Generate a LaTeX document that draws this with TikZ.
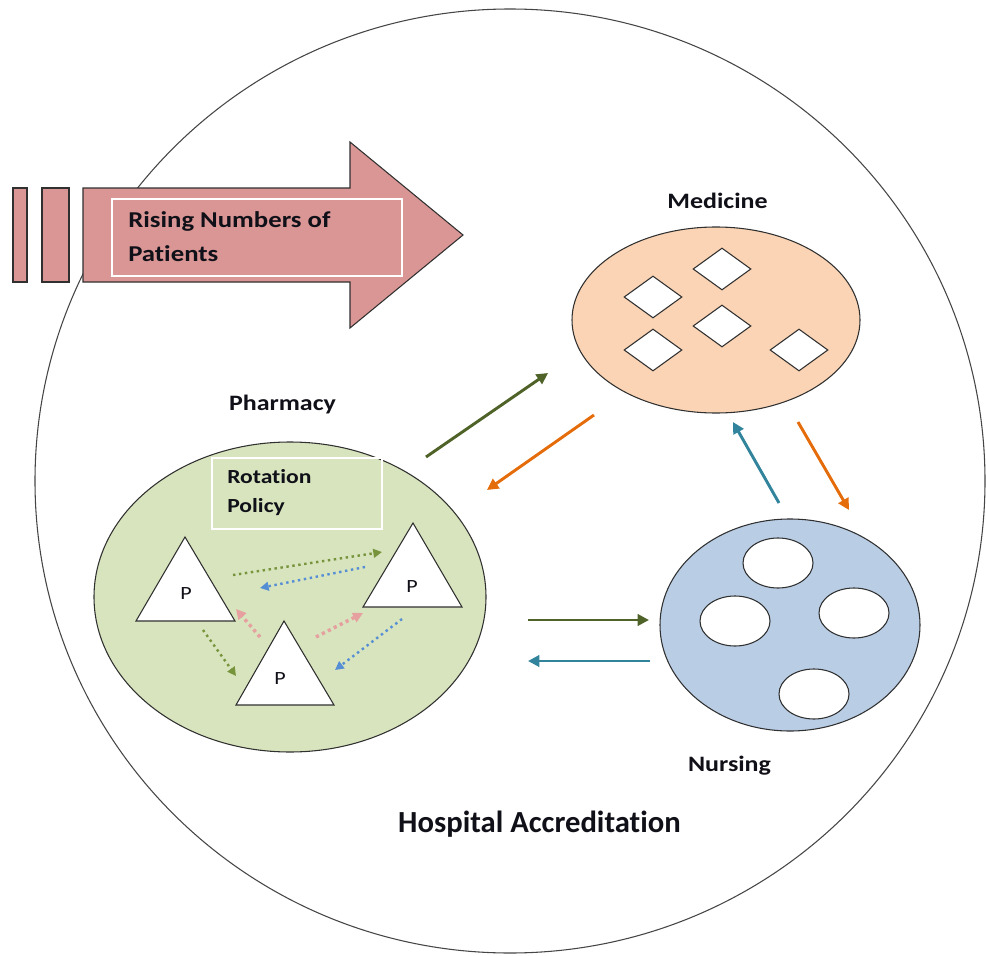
\documentclass[tikz,border=0pt]{standalone}
\usepackage{fontspec}
\setmainfont{Carlito}[Ligatures=NoCommon]
\newfontfamily\widefont{Carlito}[FakeStretch=1.18, Ligatures=NoCommon]
\usetikzlibrary{arrows.meta,shapes.geometric}

\definecolor{pinkfill}{HTML}{D99694}
\definecolor{pharmfill}{HTML}{D7E4BD}
\definecolor{medfill}{HTML}{FAD4B4}
\definecolor{nursefill}{HTML}{B9CDE5}
\definecolor{darkgreen}{HTML}{4F6228}
\definecolor{burnt}{HTML}{E46C0A}
\definecolor{teal}{HTML}{31849B}
\definecolor{dotgreen}{HTML}{77933C}
\definecolor{dotblue}{HTML}{558ED5}
\definecolor{dotpink}{HTML}{E6A0A0}
\definecolor{edge}{HTML}{303030}
\definecolor{ink}{HTML}{101018}

\tikzset{
  region/.style={ellipse, draw=edge, line width=0.8pt, inner sep=0pt},
  hole/.style={draw=edge, line width=0.8pt, fill=white, inner sep=0pt},
  title/.style={font=\widefont\bfseries\fontsize{16.5}{19}\selectfont, inner sep=0pt, anchor=base, text=ink},
  boxtext/.style={font=\widefont\bfseries\fontsize{17}{20}\selectfont, inner sep=0pt, anchor=base west, text=ink},
  ptext/.style={font=\widefont\fontsize{14}{16}\selectfont, inner sep=0pt, anchor=base, text=ink},
  flow/.style={line width=2.2pt, -{Triangle[length=8.5pt,width=8.5pt]}},
  hop/.style={line width=1.8pt, dash pattern=on 1.8pt off 2.7pt, -{Triangle[length=6.5pt,width=6.5pt]}},
  fathop/.style={line width=2.6pt, dash pattern=on 2.4pt off 2.6pt, -{Triangle[length=7.5pt,width=7.5pt]}},
  notebox/.style={draw=white, line width=1pt, inner sep=0pt},
}

\begin{document}
\begin{tikzpicture}[x=0.75pt,y=-0.75pt]
\useasboundingbox (0,0) rectangle (986,956);

% outer boundary: hospital accreditation
\node[region, draw=edge!90, minimum width=712.5pt, minimum height=708pt] (hospital) at (510,481) {};
\node[title, font=\bfseries\fontsize{23}{26}\selectfont] (hosplabel) at (539.5,832) {Hospital Accreditation};

% rising numbers of patients arrow
\fill[pinkfill, draw=edge, line width=0.8pt] (13,188) rectangle (27,282);
\fill[pinkfill, draw=edge, line width=0.8pt] (42,188) rectangle (69,282);
\path[fill=pinkfill, draw=edge, line width=0.8pt]
  (83,188) -- (350,188) -- (350,142) -- (463,235) -- (350,328) -- (350,282) -- (83,282) -- cycle;
\node[notebox, minimum width=217.5pt, minimum height=57.75pt] (risingbox) at (257,237.5) {};
\node[boxtext] (rising1) at (128,227) {Rising Numbers of};
\node[boxtext] (rising2) at (128,261) {Patients};

% medicine
\node[region, fill=medfill, minimum width=216pt, minimum height=139.5pt] (medicine) at (716,320) {};
\node[title] (medlabel) at (717.5,208) {Medicine};
\foreach \n/\px/\py in {1/722/269, 2/653/297, 3/722/326, 4/653/350, 5/799/350}
  \node[hole, diamond, minimum width=43.5pt, minimum height=31.5pt] (doc\n) at (\px,\py) {};

% nursing
\node[region, fill=nursefill, minimum width=195pt, minimum height=159pt] (nursing) at (790,625) {};
\node[title] (nurselabel) at (729.5,771) {Nursing};
\foreach \n/\px/\py in {1/778/563, 2/735/621, 3/854/613, 4/814/694}
  \node[hole, ellipse, minimum width=52.5pt, minimum height=37.5pt] (nurse\n) at (\px,\py) {};

% pharmacy
\node[region, fill=pharmfill, minimum width=294pt, minimum height=232.5pt] (pharmacy) at (290,597) {};
\node[title] (pharmlabel) at (282.5,410) {Pharmacy};
\node[notebox, minimum width=127.5pt, minimum height=53.25pt] (policybox) at (297,493.5) {};
\node[boxtext, font=\widefont\bfseries\fontsize{15}{18}\selectfont] (policy1) at (227,483) {Rotation};
\node[boxtext, font=\widefont\bfseries\fontsize{15}{18}\selectfont] (policy2) at (227,512) {Policy};

% pharmacists
\filldraw[fill=white, draw=edge, line width=0.8pt] (185,537) -- (235,621) -- (136,621) -- cycle;
\filldraw[fill=white, draw=edge, line width=0.8pt] (413,523) -- (462,607) -- (363,607) -- cycle;
\filldraw[fill=white, draw=edge, line width=0.8pt] (284,621) -- (334,705) -- (236,705) -- cycle;
\node[ptext] (p1) at (186,599) {P};
\node[ptext] (p2) at (412,592) {P};
\node[ptext] (p3) at (280,684) {P};

% rotation between pharmacists
\coordinate (r1a) at (233,575); \coordinate (r1b) at (382,552);
\coordinate (r2a) at (365,567); \coordinate (r2b) at (260,588);
\coordinate (r3a) at (203,630); \coordinate (r3b) at (236,676);
\coordinate (r4a) at (260,637); \coordinate (r4b) at (236,609);
\coordinate (r5a) at (316,637); \coordinate (r5b) at (363,613);
\coordinate (r6a) at (402,619); \coordinate (r6b) at (335,670);
\draw[hop, dotgreen] (r1a) -- (r1b);
\draw[hop, dotblue] (r2a) -- (r2b);
\draw[hop, dotgreen] (r3a) -- (r3b);
\draw[fathop, dotpink] (r4a) -- (r4b);
\draw[fathop, dotpink] (r5a) -- (r5b);
\draw[hop, dotblue] (r6a) -- (r6b);

% flows between departments
\coordinate (pm1) at (426,457); \coordinate (pm2) at (548,373);
\coordinate (mp1) at (594,415); \coordinate (mp2) at (487,490);
\coordinate (nm1) at (779,503); \coordinate (nm2) at (733,422);
\coordinate (mn1) at (798,422); \coordinate (mn2) at (849,510);
\coordinate (pn1) at (528,620); \coordinate (pn2) at (649,620);
\coordinate (np1) at (650,661); \coordinate (np2) at (528,661);
\draw[flow, darkgreen] (pm1) -- (pm2);
\draw[flow, burnt] (mp1) -- (mp2);
\draw[flow, teal] (nm1) -- (nm2);
\draw[flow, burnt] (mn1) -- (mn2);
\draw[flow, darkgreen] (pn1) -- (pn2);
\draw[flow, teal] (np1) -- (np2);
\end{tikzpicture}
\end{document}
